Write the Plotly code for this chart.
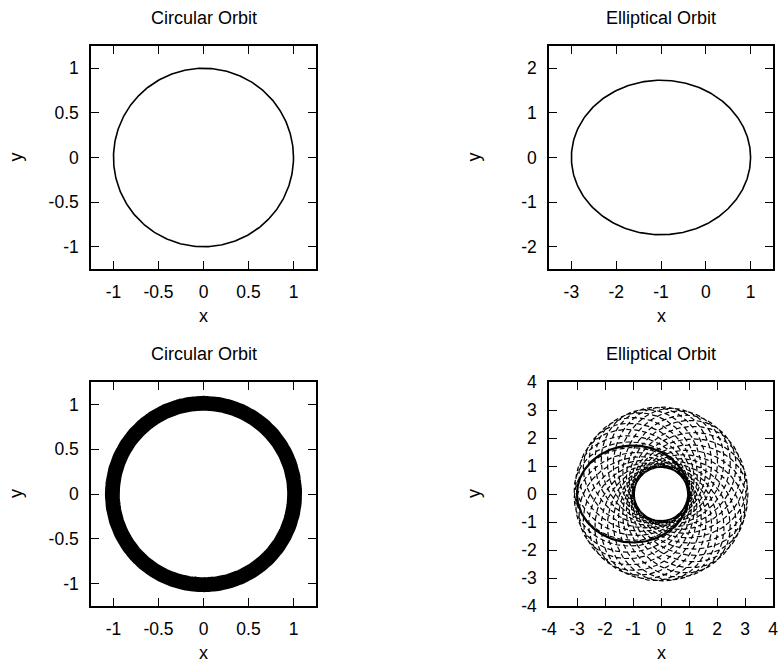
import numpy as np
import plotly.graph_objects as go

W, H = 782, 664
M = 8  # fixed outer margin on every side

# Tick values and labels
unit_ticks = [-1, -0.5, 0, 0.5, 1]
unit_labels = ["-1", "-0.5", "0", "0.5", "1"]
ell_x_ticks = [-3, -2, -1, 0, 1]
ell_y_ticks = [-2, -1, 0, 1, 2]
wide_ticks = [-4, -3, -2, -1, 0, 1, 2, 3, 4]

# Axis ranges
unit_range = [-1.25, 1.25]
ell_x_range = [-3.5, 1.5]
ell_y_range = [-2.5, 2.5]
wide_range = [-4, 4]

# Orbit geometry: semi-major axis, eccentricity, number of revolutions (focus at origin)
circle_a, circle_e = 1.0, 0.0
ellipse_a, ellipse_e = 2.0, 0.5
drift_circle_a, drift_circle_e, drift_circle_turns = 1.013, 0.073, 150
drift_ellipse_a, drift_ellipse_e, drift_ellipse_turns = 2.03, 0.53, 34

panel_titles = ["Circular Orbit", "Elliptical Orbit", "Circular Orbit", "Elliptical Orbit"]


def orbit(a, e, turns=1, precess=False, pts=360):
    """Conic orbit about the origin; optionally the periapsis rotates once over all turns."""
    th = np.linspace(0, 2 * np.pi * turns, int(pts * turns) + 1)
    w = th / turns if precess else 0.0
    r = a * (1 - e ** 2) / (1 + e * np.cos(th - w))
    return r * np.cos(th), r * np.sin(th)


def px(xp):
    """Horizontal pixel position -> paper fraction."""
    return (xp - M) / (W - 2 * M)


def py(yp):
    """Vertical pixel position (from top) -> paper fraction."""
    return 1 - (yp - M) / (H - 2 * M)


# Panel frames in pixels: (left, right, top, bottom)
frames = [(91, 316, 46, 269), (549, 773, 46, 269),
          (91, 316, 382, 606), (549, 773, 382, 606)]

FONT = "Liberation Sans, Arial, Helvetica, sans-serif"
fig = go.Figure()

solid = dict(color="black", width=1.6)
band = dict(color="black", width=1.5, dash="5px,3px")
dashed = dict(color="black", width=1.2, dash="5px,3px")

x, y = orbit(circle_a, circle_e)
fig.add_trace(go.Scatter(x=x, y=y, mode="lines", line=solid, xaxis="x", yaxis="y"))
x, y = orbit(ellipse_a, ellipse_e)
fig.add_trace(go.Scatter(x=x, y=y, mode="lines", line=solid, xaxis="x2", yaxis="y2"))
x, y = orbit(drift_circle_a, drift_circle_e, drift_circle_turns, precess=True, pts=240)
fig.add_trace(go.Scatter(x=x, y=y, mode="lines", line=band, xaxis="x3", yaxis="y3"))
x, y = orbit(drift_ellipse_a, drift_ellipse_e, drift_ellipse_turns, precess=True)
fig.add_trace(go.Scatter(x=x, y=y, mode="lines", line=dashed, xaxis="x4", yaxis="y4"))
x, y = orbit(ellipse_a, ellipse_e)
fig.add_trace(go.Scatter(x=x, y=y, mode="lines", line=dict(color="black", width=2.2),
                         xaxis="x4", yaxis="y4"))

axis_specs = [
    (unit_range, unit_ticks, unit_labels, unit_range, unit_ticks, unit_labels),
    (ell_x_range, ell_x_ticks, [str(v) for v in ell_x_ticks],
     ell_y_range, ell_y_ticks, [str(v) for v in ell_y_ticks]),
    (unit_range, unit_ticks, unit_labels, unit_range, unit_ticks, unit_labels),
    (wide_range, wide_ticks, [str(v) for v in wide_ticks],
     wide_range, wide_ticks, [str(v) for v in wide_ticks]),
]

common = dict(showgrid=False, zeroline=False, showline=True, linecolor="black",
              linewidth=1.5, mirror="allticks", ticks="inside", ticklen=8,
              tickwidth=1, tickcolor="black",
              tickfont=dict(family=FONT, size=17.5, color="black"), fixedrange=True)

layout = {}
annotations = []
label_font = dict(family=FONT, size=18, color="black")
for i, ((xr, xt, xl, yr, yt, yl), (l, r, t, b)) in enumerate(zip(axis_specs, frames)):
    n = "" if i == 0 else str(i + 1)
    layout["xaxis" + n] = dict(common, range=xr, tickvals=xt, ticktext=xl,
                               domain=[px(l), px(r)], anchor="y" + n, ticklabelstandoff=6)
    layout["yaxis" + n] = dict(common, range=yr, tickvals=yt, ticktext=yl,
                               domain=[py(b), py(t)], anchor="x" + n, ticklabelstandoff=7)
    cx = px((l + r) / 2)
    annotations.append(dict(text=panel_titles[i], x=cx, y=py(t - 28), xref="paper",
                            yref="paper", showarrow=False, xanchor="center", yanchor="middle",
                            font=label_font))
    annotations.append(dict(text="x", x=cx, y=py(b + 47), xref="paper", yref="paper",
                            showarrow=False, xanchor="center", yanchor="middle",
                            font=label_font))
    annotations.append(dict(text="y", x=px(l - 75), y=py((t + b) / 2), xref="paper",
                            yref="paper", showarrow=False, xanchor="center", yanchor="middle",
                            textangle=-90, font=label_font))

fig.update_layout(width=W, height=H,
                  margin=dict(l=M, r=M, t=M, b=M, pad=0, autoexpand=False),
                  paper_bgcolor="white", plot_bgcolor="white", showlegend=False,
                  annotations=annotations, **layout)

fig.write_html("out.html")
